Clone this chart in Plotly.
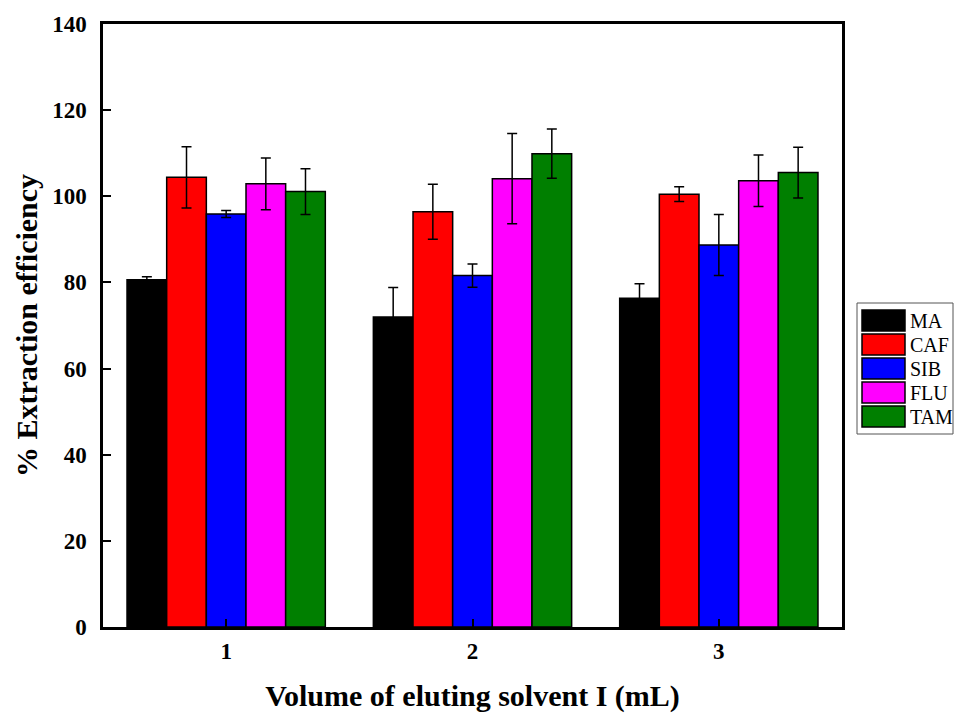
import plotly.graph_objects as go

categories = [1, 2, 3]
series_names = ["MA", "CAF", "SIB", "FLU", "TAM"]
colors = ["#000000", "#ff0000", "#0000ff", "#ff00ff", "#007f00"]

ma = [80.6, 72.0, 76.3]
caf = [104.4, 96.4, 100.5]
sib = [95.9, 81.6, 88.7]
flu = [102.9, 104.1, 103.6]
tam = [101.1, 109.9, 105.5]

ma_err = [0.7, 6.8, 3.4]
caf_err = [7.1, 6.4, 1.7]
sib_err = [0.8, 2.7, 7.1]
flu_err = [6.0, 10.5, 6.0]
tam_err = [5.3, 5.7, 5.9]

values = [ma, caf, sib, flu, tam]
errors = [ma_err, caf_err, sib_err, flu_err, tam_err]

y_ticks = [0, 20, 40, 60, 80, 100, 120, 140]

W, H = 955, 715
L, R, T, B = 103, 842, 24, 627

fig = go.Figure()
for name, vals, errs, c in zip(series_names, values, errors, colors):
    fig.add_trace(go.Bar(
        x=categories, y=vals, name=name,
        marker=dict(color=c, line=dict(color="black", width=1.5)),
        error_y=dict(type="data", array=errs, visible=True,
                     color="black", thickness=1.5, width=5),
        showlegend=False,
    ))

font_family = "Liberation Serif, Times New Roman, serif"

fig.update_layout(
    width=W, height=H,
    margin=dict(l=L, r=W - R, t=T, b=H - B),
    paper_bgcolor="white", plot_bgcolor="white",
    barmode="group", bargap=0.195, bargroupgap=0,
    font=dict(family=font_family, color="black"),
)
fig.update_xaxes(
    range=[0.5, 3.5], tickvals=categories, ticktext=[str(c) for c in categories],
    ticks="inside", ticklen=8, tickwidth=2, tickcolor="black",
    showline=True, linewidth=2.5, linecolor="black", mirror=True,
    showgrid=False, zeroline=False, ticklabelstandoff=2, automargin=False,
    tickfont=dict(size=23, family=font_family, weight="bold"),
    title=dict(text="<b>Volume of eluting solvent I (mL)</b>",
               font=dict(size=30, family=font_family), standoff=22),
)
fig.update_yaxes(
    range=[0, 140], tickvals=y_ticks,
    ticks="inside", ticklen=8, tickwidth=2, tickcolor="black",
    showline=True, linewidth=2.5, linecolor="black", mirror=True,
    showgrid=False, zeroline=False, ticklabelstandoff=9, automargin=False,
    tickfont=dict(size=23, family=font_family, weight="bold"),
    title=dict(text="<b>% Extraction efficiency</b>",
               font=dict(size=30, family=font_family), standoff=6),
)

# custom legend (pixel -> paper conversion)
def px(xp):
    return (xp - L) / (R - L)

def py(yp):
    return (B - yp) / (B - T)

box_x0, box_x1, box_y0, box_y1 = 857, 953, 303, 434
fig.add_shape(type="rect", xref="paper", yref="paper",
              x0=px(box_x0), x1=px(box_x1), y0=py(box_y1), y1=py(box_y0),
              line=dict(color="#555555", width=1), fillcolor="white", layer="above")
row_h = 24
for i, (name, c) in enumerate(zip(series_names, colors)):
    top = 310 + i * row_h
    fig.add_shape(type="rect", xref="paper", yref="paper",
                  x0=px(862), x1=px(905), y0=py(top + 21), y1=py(top),
                  line=dict(color="black", width=1.5), fillcolor=c, layer="above")
    fig.add_annotation(xref="paper", yref="paper", x=px(908), y=py(top + 10.5),
                       text=name, showarrow=False, xanchor="left", yanchor="middle",
                       font=dict(size=20, family=font_family, color="black"))

fig.write_html("out.html")
